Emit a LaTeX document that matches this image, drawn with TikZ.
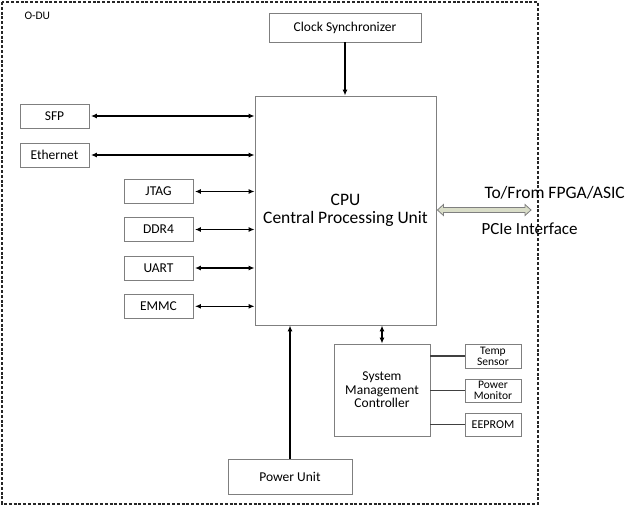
\documentclass[tikz,border=0pt]{standalone}
\usepackage{fontspec}
\setmainfont{Carlito}
\usetikzlibrary{arrows.meta,calc}
\definecolor{boxgray}{HTML}{7F7F7F}
\definecolor{pcie}{HTML}{D9DDC8}
\begin{document}
\begin{tikzpicture}[x=1pt,y=-1pt,
  box/.style={draw=boxgray, line width=0.9pt, rectangle, inner sep=0pt, align=center, font=\fontsize{13.5}{14}\selectfont},
  arr/.style={line width=1.4pt, -{Latex[length=6pt,width=5pt]}},
  barr/.style={line width=1.4pt, {Latex[length=6pt,width=5pt]}-{Latex[length=6pt,width=5pt]}},
  link/.style={line width=1.5pt, draw=black!75}
]
\useasboundingbox (0,0) rectangle (627,506);
\draw[line width=1.1pt, dash pattern=on 3pt off 1.8pt, draw=black!85] (2,2) rectangle (538,504);
\node[anchor=west, font=\fontsize{11.5}{12}\selectfont] (odu) at (21,15.5) {O-DU};

\node[box, minimum width=152pt, minimum height=29pt] (clk) at (345,27.5) {Clock Synchronizer};
\node[box, minimum width=181pt, minimum height=229pt] (cpu) at (345.5,210.5) {};
\node[font=\fontsize{17.5}{18}\selectfont, align=center] (cputxt) at (345.5,210) {CPU\\Central Processing Unit};

\node[box, minimum width=69pt, minimum height=24pt] (sfp) at (54.5,116) {SFP};
\node[box, minimum width=69pt, minimum height=24pt] (eth) at (54.5,155) {Ethernet};
\node[box, minimum width=69pt, minimum height=24pt] (jtag) at (158.5,191.5) {JTAG};
\node[box, minimum width=69pt, minimum height=24pt] (ddr) at (158.5,229.5) {DDR4};
\node[box, minimum width=69pt, minimum height=24pt] (uart) at (158.5,268) {UART};
\node[box, minimum width=69pt, minimum height=24pt] (emmc) at (158.5,306.3) {EMMC};

\draw[arr] (clk.south) -- (clk.south |- cpu.north);
\foreach \n in {sfp,eth,jtag,ddr,uart,emmc}{
  \draw[barr] ($(\n.east)+(1.5,0)$) -- (\n.east -| cpu.west);
}

% PCIe interface arrow
\coordinate (pe) at (531,210);
\coordinate (ps) at ($(cpu.east |- pe)+(1,0)$);
\draw[draw=boxgray, line width=0.8pt, fill=pcie]
  (ps) -- ($(ps)+(6,-5.5)$) -- ($(ps)+(6,-2.5)$) -- ($(pe)+(-6,-2.5)$) -- ($(pe)+(-6,-5.5)$) -- (pe)
  -- ($(pe)+(-6,5.5)$) -- ($(pe)+(-6,2.5)$) -- ($(ps)+(6,2.5)$) -- ($(ps)+(6,5.5)$) -- cycle;
\node[anchor=west, font=\fontsize{17.5}{18}\selectfont] (tofrom) at (481,192.5) {To/From FPGA/ASIC};
\node[anchor=west, font=\fontsize{17}{18}\selectfont] (pcielbl) at (478,228.5) {PCIe Interface};

\node[box, minimum width=96pt, minimum height=92pt, font=\fontsize{13.5}{13.5}\selectfont] (smc) at (382,390) {System\\Management\\Controller};
\draw[barr, line width=1.2pt] (cpu.south -| smc.north) -- (smc.north);

\node[box, minimum width=56pt, minimum height=24pt, font=\fontsize{11.5}{11}\selectfont] (temp) at (493,356) {Temp\\Sensor};
\node[box, minimum width=56pt, minimum height=23pt, font=\fontsize{11.5}{11}\selectfont] (pmon) at (493,390.5) {Power\\Monitor};
\node[box, minimum width=56pt, minimum height=23pt, font=\fontsize{12}{12}\selectfont] (eep) at (493,424.5) {EEPROM};
\foreach \n in {temp,pmon,eep}{
  \draw[link] (\n.west -| smc.east) -- (\n.west);
}

\node[box, minimum width=124pt, minimum height=35pt] (pwr) at (290,476.5) {Power Unit};
\draw[arr] (pwr.north) -- (pwr.north |- cpu.south);
\end{tikzpicture}
\end{document}
